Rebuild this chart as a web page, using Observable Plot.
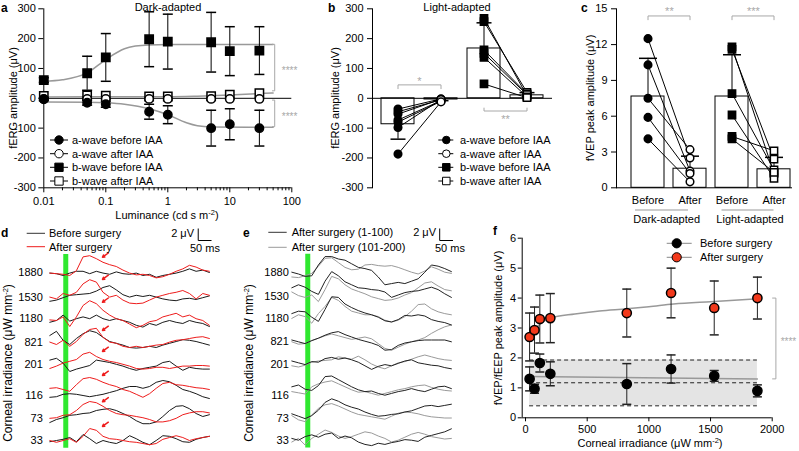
<!DOCTYPE html>
<html><head><meta charset="utf-8">
<script src="https://cdn.jsdelivr.net/npm/d3@7"></script>
<script src="https://cdn.jsdelivr.net/npm/@observablehq/plot@0.6"></script>
<style>
html,body{margin:0;padding:0;background:#fff;}
#fig{position:relative;width:799px;height:451px;overflow:hidden;font-family:"Liberation Sans",Arial,sans-serif;}
</style></head><body><div id="fig"></div>
<script>
// ---------------- DATA ----------------
// panel a (dark-adapted fERG)
const luminance = [0.01, 0.05, 0.1, 0.5, 1, 5, 10, 30];
const luminanceTicks = [0.01, 0.1, 1, 10, 100];
const ampTicks = [-300, -200, -100, 0, 100, 200, 300];
const aBeforeMean = [-3, -15, -20, -45, -55, -100, -87, -100];
const aBeforeSD = [5, 8, 10, 25, 30, 60, 52, 60];
const aAfterMean = [-2, -2, -2, -2, -2, -2, -2, -2];
const bBeforeMean = [61, 84, 137, 198, 190, 188, 158, 160];
const bBeforeSD = [8, 57, 80, 92, 92, 100, 82, 80];
const bAfterMean = [8, 10, 9, 6, 6, 7, 12, 17];
const bBeforeFitX = [0.01, 0.02, 0.05, 0.1, 0.2, 0.3, 0.5, 1, 5, 50];
const bBeforeFitY = [57, 62, 85, 130, 166, 175, 179, 180, 180, 180];
const aBeforeFitX = [0.01, 0.05, 0.1, 0.2, 0.5, 1, 2, 3, 5, 50];
const aBeforeFitY = [-12, -13, -15, -20, -35, -55, -82, -92, -96, -97];
const bAfterFitX = [0.01, 0.1, 1, 3, 10, 30, 50];
const bAfterFitY = [4, 5, 5, 7, 11, 16, 18];
const aSig = [{y1: 181, y2: 25, label: "****"}, {y1: -6, y2: -95, label: "****"}];

// panel b (light-adapted fERG)
const bCats = ["a-wave before IAA", "a-wave after IAA", "b-wave before IAA", "b-wave after IAA"];
const lightMean = [-87, -4, 167, 10];
const lightSD = [50, 4, 86, 9];
const aWaveBefore = [-36, -45, -53, -73, -80, -98, -187];
const aWaveAfter = [-2, -5, -3, -8, -10, -4, -12];
const bWaveBefore = [268, 257, 162, 151, 137, 48];
const bWaveAfter = [8, 20, 15, 12, 5, 2];

// panel c (fVEP)
const cCats = ["DB", "DA", "LB", "LA"];
const cTickLabels = ["Before", "After", "Before", "After"];
const cGroups = ["Dark-adapted", "Light-adapted"];
const fvepTicks = [0, 3, 6, 9, 12, 15];
const fvepMean = [7.65, 1.6, 7.65, 1.55];
const fvepSD = [3.2, 1.05, 3.5, 1.0];
const darkBefore = [12.5, 10.3, 7.5, 5.9, 4.1];
const darkAfter = [2.5, 1.4, 3.2, 1.2, 0.5];
const lightBefore = [11.8, 11.6, 7.9, 6.1, 4.3, 4.1];
const lightAfter = [1.2, 2.4, 1.5, 0.8, 3.1, 1.3];

// panels d, e (traces)
const traceTimesMs = [-60,-35,-10,15,40,65,90,115,140,165,190,215,240,265,290,315,340,365,390,415,440,465,490,515,540];
const irradianceRows = ["1880","1530","1180","821","201","116","73","33"];
const dBeforeUV = [
 [-0.1,-0.2,-0.5,-0.1,0.2,0.2,-0.2,0.2,-0.1,-0.3,0.1,-0.2,-0.3,-0.1,-0.5,-0.3,-0.8,-0.5,-0.3,-0.1,0.2,0.6,0.2,0.4,0.0],
 [-0.7,-0.5,-0.1,0.3,0.4,0.5,0.6,1.0,1.6,1.9,1.2,0.4,0.0,0.3,0.1,0.3,0.0,-0.3,-0.5,-0.6,-0.3,-0.2,-0.4,-0.1,0.2],
 [-0.6,-0.3,0.6,-0.4,0.0,0.3,0.0,0.6,0.0,-0.3,0.0,-0.3,-0.6,-1.1,-1.4,-0.8,-1.1,-0.6,-0.3,-0.6,-0.8,-0.3,-0.6,-0.8,-1.3],
 [1.1,1.8,0.3,-0.4,0.6,1.4,1.9,1.6,0.8,0.1,-0.2,-0.5,-0.9,-1.0,-0.9,-0.7,-0.9,-0.5,-0.2,0.1,0.4,0.3,0.1,-0.2,-0.5],
 [0.7,1.0,0.2,-1.2,-0.8,-0.5,-0.2,0.7,0.5,0.3,0.0,-0.3,-0.7,-1.0,-0.7,-0.5,-0.3,0.3,0.5,-0.3,-1.0,-0.5,-0.7,-0.8,-0.8],
 [-0.3,-0.2,0.2,0.3,0.2,0.0,-0.2,0.0,0.2,0.5,0.8,1.2,1.5,1.5,1.2,1.5,2.2,2.5,2.3,1.7,1.0,0.7,0.3,-0.2,-0.5],
 [-0.7,-0.2,0.1,0.5,0.6,0.8,0.9,1.3,1.5,1.6,1.3,0.8,0.3,-0.4,-0.9,-0.9,-0.6,0.3,1.3,2.0,2.1,1.6,0.8,0.3,0.6],
 [-0.2,0.0,0.2,0.5,-0.2,1.0,0.3,-0.5,0.0,-0.3,-0.5,0.0,0.8,0.3,-0.3,-0.7,0.0,0.8,0.7,0.3,-0.2,-0.3,0.2,0.5,0.7]
];
const dAfterUV = [
 [-0.1,-0.2,-0.3,-0.5,0.3,2.6,2.8,2.3,1.7,1.3,1.0,0.4,-0.1,-0.4,-0.3,-0.5,-0.9,-0.7,-0.3,0.2,0.6,1.2,0.9,0.4,0.2],
 [0.0,-0.3,0.6,0.3,0.8,2.2,2.9,2.5,0.8,0.0,0.3,-0.5,-1.0,-1.1,-1.0,-0.5,0.0,0.3,0.6,0.8,1.1,0.6,-0.3,0.6,0.3],
 [-0.2,-0.3,0.3,-1.3,0.3,2.2,3.0,2.5,1.4,0.6,0.0,-0.3,-0.9,-1.5,-1.1,-0.5,-0.3,0.3,0.6,0.9,0.3,0.6,0.0,-0.3,-1.1],
 [0.0,-0.4,0.3,-0.7,0.1,1.3,2.1,2.3,0.8,0.0,-0.2,-0.7,-0.9,-0.7,-0.9,-0.7,-0.5,-0.4,0.0,0.3,0.4,0.6,0.8,0.9,0.6],
 [-0.7,-0.3,0.2,0.5,0.8,1.7,2.0,1.3,0.8,0.5,0.3,0.0,-0.3,-0.7,-0.8,-0.7,-0.5,-0.5,-0.7,-0.5,-0.3,-0.3,-0.2,-0.2,-0.3],
 [1.2,1.3,1.0,0.7,1.8,2.8,3.0,2.7,2.2,1.8,1.5,1.0,0.7,0.2,-0.3,0.3,1.2,2.0,2.2,1.8,1.7,1.5,1.3,1.2,1.0],
 [0.0,0.1,0.5,0.6,1.3,2.3,2.8,2.6,2.0,1.3,0.8,0.6,0.5,0.3,0.1,-0.2,-0.6,-0.6,-0.4,0.0,0.6,0.9,1.1,1.1,0.9],
 [0.0,-0.3,0.0,0.3,-0.3,0.7,2.0,1.7,0.7,0.3,0.2,0.0,-0.2,-0.3,-0.5,-0.7,-0.5,0.2,0.5,0.8,0.5,0.0,0.3,0.5,0.7]
];
const arrowPeakUV = [2.7, 3.1, 2.9, 2.1, 2.3, 3.5, 2.9, 2.5];
const eFirstUV = [
 [0,-0.3,-0.7,-0.6,1.2,2.6,2.6,2.2,2.0,1.4,0.8,0.6,0.3,-0.8,-2.1,-1.9,-1.7,-1.9,-1.5,-1.1,0,1.2,1.0,0.6,0.1],
 [1.5,2.0,1.6,0.9,0.4,2.6,4.2,3.5,2.5,2.0,1.5,1.4,1.2,1.1,0.8,-0.1,0.3,0.7,0.9,1.0,1.3,1.6,1.2,0.5,-0.1],
 [0.8,1.2,1.1,0.2,-0.5,1.5,3.6,3.5,2.4,1.8,1.3,0.9,0.6,0.2,-0.4,-0.6,-0.2,0.5,0.4,0.6,0.4,-0.2,-0.5,-0.7,-1.1],
 [0.3,0.0,-0.3,0.2,0.6,1.1,1.5,1.7,1.2,0.8,0.4,0.1,-0.2,-0.6,-1.4,-1.3,-0.6,-0.2,0.0,0.2,0.3,0.3,0.3,0.3,0.0],
 [0.5,0.2,-0.1,0.4,0.3,0.9,1.1,0.8,1.0,0.7,0.3,-0.3,-0.9,-0.4,-0.1,-0.3,0.1,0.5,0.7,0.2,0.0,-0.2,-0.3,-0.6,-0.8],
 [1.4,1.7,1.0,0.8,1.6,3.1,3.2,2.6,2.0,1.4,0.9,0.6,0.7,0.3,0.0,0.3,0.6,0.8,1.1,0.8,0.6,1.0,1.4,1.5,1.1],
 [0.7,0.3,-0.1,0.4,1.3,2.6,3.2,2.8,2.2,1.8,1.5,1.0,0.6,0.3,0.4,0.6,0.7,1.0,1.2,1.6,2.0,2.1,1.9,2.1,2.3],
 [0.3,0.0,0.6,0.9,0.5,1.0,1.2,0.3,0.7,0.4,-0.3,-0.7,-0.9,-0.5,-0.7,-0.4,-0.2,0.1,0.0,-0.2,0.5,0.8,1.1,1.4,1.9]
];
const eSecondUV = [
 [-0.8,-0.9,-0.6,-0.2,1.0,2.3,2.4,1.6,0.8,0.4,0.5,1.2,1.3,1.1,1.0,1.1,0.8,0.4,0.0,-0.3,0.2,0.9,0.5,0.0,-0.2],
 [0.8,0.2,-0.1,0.3,-0.8,1.2,3.4,3.0,2.0,1.3,0.9,0.5,0.0,-0.3,-0.6,-0.5,-0.2,0.3,0.7,1.5,2.3,2.5,1.8,1.2,1.0],
 [0.0,0.6,0.3,-0.8,0.8,2.0,3.5,3.0,2.0,1.2,0.9,0.6,0.6,0.3,-0.3,-0.6,-0.3,0.3,1.2,2.3,2.4,1.6,1.1,0.8,0.6],
 [0.0,-0.4,-0.3,0.2,0.6,1.0,1.3,1.0,0.7,0.4,0.6,0.8,0.5,-0.3,-1.1,-1.4,-0.9,-0.4,0.0,0.3,0.7,1.4,2.0,2.5,2.8],
 [-0.3,-0.5,-0.2,0.3,0.5,0.6,0.7,1.2,1.0,0.8,1.3,0.7,0.0,-0.5,-0.8,-0.3,0.2,0.4,0.8,1.2,1.5,1.2,0.9,0.7,0.6],
 [0.6,0.4,0.2,1.4,1.9,2.2,2.4,1.9,1.4,0.9,0.5,0.6,0.3,0.0,0.3,0.6,0.9,1.1,1.4,1.6,1.7,1.3,1.0,0.8,0.7],
 [0.4,-0.3,-0.6,0.5,1.6,2.2,2.4,2.0,1.5,1.0,0.6,0.4,0.2,0.0,-0.2,0.3,0.8,1.0,0.9,0.7,0.4,0.2,0.1,0.0,0.0],
 [-0.3,0.3,-0.8,0.3,1.0,1.7,1.3,0.7,0.3,0.6,1.0,1.4,1.2,0.7,0.3,-0.3,0.0,0.5,1.0,1.3,1.0,0.6,0.4,0.2,0.3]
];
const stimulusOnsetMs = [0];
const scaleBar = {uV: 2, ms: 50};

// panel f
const irradiance = [33, 73, 116, 201, 821, 1180, 1530, 1880];
const irrTicks = [0, 500, 1000, 1500, 2000];
const fTicks = [0, 1, 2, 3, 4, 5, 6];
const beforeMean = [1.3, 0.97, 1.83, 1.47, 1.13, 1.63, 1.4, 0.9];
const beforeSD = [0.4, 0.15, 0.3, 0.4, 0.68, 0.47, 0.18, 0.2];
const afterMean = [2.7, 2.93, 3.3, 3.33, 3.5, 4.17, 3.67, 4.0];
const afterSD = [0.8, 0.77, 0.8, 0.82, 0.8, 0.83, 0.9, 0.7];
const afterFitX = [33, 73, 116, 201, 400, 600, 821, 1000, 1200, 1500, 1880];
const afterFitY = [2.75, 2.95, 3.12, 3.33, 3.47, 3.57, 3.64, 3.71, 3.8, 3.88, 3.97];
const beforeFitX = [33, 1880];
const beforeFitY = [1.38, 1.3];
const noiseX = [33, 1880];
const noiseY = [0.4, 1.17, 1.93];

// ---------------- LAYOUT / HELPERS ----------------
const FONT = '"Liberation Sans", Arial, Helvetica, sans-serif';
const fig = document.getElementById("fig");
const STYLE = {fontFamily: FONT, fontSize: "11px", color: "black", background: "transparent", overflow: "visible"};
function mount(svg, left, top) {
  svg.style.position = "absolute"; svg.style.left = left + "px"; svg.style.top = top + "px";
  fig.appendChild(svg);
}
const cap = {draw(ctx, size) { const w = Math.sqrt(size / Math.PI); ctx.moveTo(-w, 0); ctx.lineTo(w, 0); }};
const str = d => String(d);
const GREY = "#a8a8a8";

// ---------------- PANEL a ----------------
const aRows = luminance.map((x, i) => ({x, aB: aBeforeMean[i], aBsd: aBeforeSD[i], aA: aAfterMean[i], bB: bBeforeMean[i], bBsd: bBeforeSD[i], bA: bAfterMean[i]}));
const minorLum = [];
for (const dec of [0.01, 0.1, 1, 10]) for (let k = 2; k <= 9; k++) minorLum.push(+(dec * k).toPrecision(3));
mount(Plot.plot({
  width: 300, height: 225, marginLeft: 43.3, marginRight: 8.7, marginTop: 8.3, marginBottom: 37.7,
  style: STYLE,
  x: {type: "log", domain: [0.01, 100]},
  y: {domain: [-300, 300]},
  marks: [
    Plot.ruleY([-300], {x1: 0.01, x2: 100, stroke: "black"}),
    Plot.ruleX([0.01], {y1: -300, y2: 300, stroke: "black"}),
    Plot.axisX({ticks: luminanceTicks, tickFormat: str, tickSize: 5, tickPadding: 4, label: null}),
    Plot.axisX({ticks: minorLum, tickSize: 3, tickFormat: () => "", label: null}),
    Plot.axisY({ticks: ampTicks, tickFormat: str, tickSize: 5, tickPadding: 3, label: null}),
    Plot.ruleY([0], {x1: 0.01, x2: 100, stroke: "black"}),
    Plot.line(d3.zip(bAfterFitX, bAfterFitY), {stroke: "#999", curve: "monotone-x"}),
    Plot.line(d3.zip(bBeforeFitX, bBeforeFitY), {stroke: "#999", curve: "monotone-x"}),
    Plot.line(d3.zip(aBeforeFitX, aBeforeFitY), {stroke: "#999", curve: "monotone-x"}),
    Plot.ruleX(aRows, {x: "x", y1: d => d.bB - d.bBsd, y2: d => d.bB + d.bBsd, stroke: "black"}),
    Plot.dot(aRows, {x: "x", y: d => d.bB + d.bBsd, symbol: cap, r: 5, stroke: "black", fill: "none"}),
    Plot.dot(aRows, {x: "x", y: d => d.bB - d.bBsd, symbol: cap, r: 5, stroke: "black", fill: "none"}),
    Plot.ruleX(aRows, {x: "x", y1: d => d.aB - d.aBsd, y2: d => d.aB + d.aBsd, stroke: "black"}),
    Plot.dot(aRows, {x: "x", y: d => d.aB + d.aBsd, symbol: cap, r: 5, stroke: "black", fill: "none"}),
    Plot.dot(aRows, {x: "x", y: d => d.aB - d.aBsd, symbol: cap, r: 5, stroke: "black", fill: "none"}),
    Plot.dot(aRows, {x: "x", y: "bA", symbol: "square", r: 4.7, fill: "white", stroke: "black"}),
    Plot.dot(aRows, {x: "x", y: "aA", symbol: "circle", r: 4.2, fill: "white", stroke: "black"}),
    Plot.dot(aRows, {x: "x", y: "bB", symbol: "square", r: 4.7, fill: "black", stroke: "black"}),
    Plot.dot(aRows, {x: "x", y: "aB", symbol: "circle", r: 4.2, fill: "black", stroke: "black"}),
    Plot.link(aSig, {x1: 48, x2: 53, y1: "y1", y2: "y1", stroke: GREY}),
    Plot.link(aSig, {x1: 53, x2: 53, y1: "y1", y2: "y2", stroke: GREY}),
    Plot.link(aSig, {x1: 48, x2: 53, y1: "y2", y2: "y2", stroke: GREY}),
    Plot.text(aSig, {x: 92, y: d => (d.y1 + d.y2) / 2 - 10, text: "label", fill: GREY, fontSize: 10})
  ]
}), 0, 0);

// ---------------- PANEL b ----------------
const bSummary = bCats.map((c, i) => ({c, mean: lightMean[i], end: lightMean[i] + Math.sign(lightMean[i]) * lightSD[i]}));
const aPairs = aWaveBefore.map((v, i) => ({b: v, a: aWaveAfter[i]}));
const bPairs = bWaveBefore.map((v, i) => ({b: v, a: bWaveAfter[i]}));
const bSigLines = [
  {x1: bCats[0], y1: 31, x2: bCats[0], y2: 45}, {x1: bCats[0], y1: 45, x2: bCats[1], y2: 45}, {x1: bCats[1], y1: 45, x2: bCats[1], y2: 31},
  {x1: bCats[2], y1: -31.5, x2: bCats[2], y2: -42.6}, {x1: bCats[2], y1: -42.6, x2: bCats[3], y2: -42.6}, {x1: bCats[3], y1: -42.6, x2: bCats[3], y2: -31.5}
];
mount(Plot.plot({
  width: 260, height: 225, marginLeft: 72, marginRight: 8, marginTop: 8.3, marginBottom: 37.7,
  style: STYLE,
  x: {type: "band", domain: bCats, paddingInner: 0.2326, paddingOuter: 0.209, axis: null},
  y: {domain: [-300, 300]},
  marks: [
    Plot.frame({anchor: "left"}),
    Plot.axisY({ticks: ampTicks, tickFormat: str, tickSize: 5, tickPadding: 4, label: null}),
    Plot.barY(bSummary, {x: "c", y: "mean", fill: "white", stroke: "black"}),
    Plot.ruleY([0], {stroke: "black"}),
    Plot.ruleX(bSummary, {x: "c", y1: "mean", y2: "end", stroke: "black"}),
    Plot.dot(bSummary, {x: "c", y: "end", symbol: cap, r: 7.5, stroke: "black", fill: "none"}),
    Plot.link(aPairs, {x1: () => bCats[0], x2: () => bCats[1], y1: "b", y2: "a", stroke: "black"}),
    Plot.link(bPairs, {x1: () => bCats[2], x2: () => bCats[3], y1: "b", y2: "a", stroke: "black"}),
    Plot.dot(aWaveAfter, {x: () => bCats[1], y: d => d, r: 3.8, fill: "white", stroke: "black"}),
    Plot.dot(aWaveBefore, {x: () => bCats[0], y: d => d, r: 3.8, fill: "black", stroke: "black"}),
    Plot.dot(bWaveAfter, {x: () => bCats[3], y: d => d, symbol: "square", r: 4.1, fill: "white", stroke: "black"}),
    Plot.dot(bWaveBefore, {x: () => bCats[2], y: d => d, symbol: "square", r: 4.1, fill: "black", stroke: "black"}),
    Plot.link(bSigLines, {x1: "x1", y1: "y1", x2: "x2", y2: "y2", stroke: GREY}),
    Plot.text(["*"], {x: () => bCats[0], dx: 21.5, y: 58, text: d => d, fill: GREY, fontSize: 11}),
    Plot.text(["**"], {x: () => bCats[2], dx: 21.5, y: -70, text: d => d, fill: GREY, fontSize: 11})
  ]
}), 300, 0);

// ---------------- PANEL c ----------------
const cSummary = cCats.map((c, i) => ({c, mean: fvepMean[i], end: fvepMean[i] + fvepSD[i]}));
const dPairs = darkBefore.map((v, i) => ({b: v, a: darkAfter[i]}));
const lPairs = lightBefore.map((v, i) => ({b: v, a: lightAfter[i]}));
const cSig = [{from: "DB", to: "DA", label: "**"}, {from: "LB", to: "LA", label: "***"}];
mount(Plot.plot({
  width: 239, height: 225, marginLeft: 56, marginRight: 7, marginTop: 8.3, marginBottom: 37.7,
  style: STYLE,
  x: {type: "band", domain: cCats, paddingInner: 0.222, paddingOuter: 0.167, align: 0.86},
  y: {domain: [0, 15]},
  marks: [
    Plot.frame({anchor: "left"}),
    Plot.axisY({ticks: fvepTicks, tickSize: 5, tickPadding: 4, label: null}),
    Plot.axisX({tickSize: 0, tickPadding: 8, tickFormat: d => cTickLabels[cCats.indexOf(d)], label: null}),
    Plot.barY(cSummary, {x: "c", y: "mean", fill: "white", stroke: "black"}),
    Plot.ruleY([0], {stroke: "black"}),
    Plot.ruleX(cSummary, {x: "c", y1: "mean", y2: "end", stroke: "black"}),
    Plot.dot(cSummary, {x: "c", y: "end", symbol: cap, r: 9, stroke: "black", fill: "none"}),
    Plot.link(dPairs, {x1: () => "DB", x2: () => "DA", y1: "b", y2: "a", stroke: "black"}),
    Plot.link(lPairs, {x1: () => "LB", x2: () => "LA", y1: "b", y2: "a", stroke: "black"}),
    Plot.dot(darkBefore, {x: () => "DB", y: d => d, r: 3.8, fill: "black", stroke: "black"}),
    Plot.dot(darkAfter, {x: () => "DA", y: d => d, r: 3.8, fill: "white", stroke: "black"}),
    Plot.dot(lightBefore, {x: () => "LB", y: d => d, symbol: "square", r: 4.1, fill: "black", stroke: "black"}),
    Plot.dot(lightAfter, {x: () => "LA", y: d => d, symbol: "square", r: 4.1, fill: "white", stroke: "black"}),
    Plot.link(cSig, {x1: "from", x2: "to", y1: 14.4, y2: 14.4, stroke: GREY}),
    Plot.link(cSig, {x1: "from", x2: "from", y1: 14.4, y2: 14.05, stroke: GREY}),
    Plot.link(cSig, {x1: "to", x2: "to", y1: 14.4, y2: 14.05, stroke: GREY}),
    Plot.text(cSig, {x: "from", dx: 21.4, y: 14.75, text: "label", fill: GREY, fontSize: 11})
  ]
}), 560, 0);

// ---------------- PANELS d, e (traces) ----------------
const rowBaseUV = [0, -4.1, -7.7, -11.6, -15.3, -20.5, -24.3, -28];   // vertical stacking of rows (layout)
function traceRows(arr) {
  return arr.flatMap((vals, r) => vals.map((v, k) => ({t: traceTimesMs[k], v: v + rowBaseUV[r], row: r})));
}
const rowLabel = d => irradianceRows[rowBaseUV.indexOf(d)];
const arrows = arrowPeakUV.map((a, r) => ({a: a + rowBaseUV[r]}));
function scaleBarMarks(t0, v0) {
  return [
    Plot.link([0], {x1: t0, x2: t0, y1: v0, y2: v0 + scaleBar.uV, stroke: "black"}),
    Plot.link([0], {x1: t0, x2: t0 + scaleBar.ms, y1: v0, y2: v0, stroke: "black"})
  ];
}
mount(Plot.plot({
  width: 255, height: 226, marginLeft: 49.3, marginRight: 46.1, marginTop: 3, marginBottom: 3,
  style: STYLE,
  x: {domain: [-60, 540], axis: null},
  y: {domain: [-29.33, 7.33]},
  marks: [
    Plot.axisY({ticks: rowBaseUV, tickFormat: rowLabel, tickSize: 0, tickPadding: 7, label: null}),
    Plot.ruleX(stimulusOnsetMs, {x: d => d, y1: 3.0, y2: -29.3, stroke: "#2fe82f", strokeWidth: 5}),
    Plot.line(traceRows(dBeforeUV), {x: "t", y: "v", z: "row", stroke: "#1a1a1a", strokeWidth: 1}),
    Plot.line(traceRows(dAfterUV), {x: "t", y: "v", z: "row", stroke: "#ee1c1c", strokeWidth: 1}),
    Plot.arrow(arrows, {x1: 160, y1: d => d.a + 0.55, x2: 138, y2: d => d.a - 0.15, stroke: "#ee1c1c", strokeWidth: 1.5, headLength: 4}),
    ...scaleBarMarks(498, 5.33)
  ]
}), 0, 225);

mount(Plot.plot({
  width: 200, height: 226, marginLeft: 36.3, marginRight: 4.1, marginTop: 3, marginBottom: 3,
  style: STYLE,
  x: {domain: [-60, 540], axis: null},
  y: {domain: [-29.38, 7.28]},
  marks: [
    Plot.axisY({ticks: rowBaseUV, tickFormat: rowLabel, tickSize: 0, tickPadding: 3, label: null}),
    Plot.ruleX(stimulusOnsetMs, {x: d => d, y1: 3.0, y2: -29.3, stroke: "#2fe82f", strokeWidth: 5}),
    Plot.line(traceRows(eSecondUV), {x: "t", y: "v", z: "row", stroke: "#9a9a9a", strokeWidth: 1}),
    Plot.line(traceRows(eFirstUV), {x: "t", y: "v", z: "row", stroke: "#222", strokeWidth: 1}),
    ...scaleBarMarks(496, 5.28)
  ]
}), 255, 225);

// ---------------- PANEL f ----------------
const fRows = irradiance.map((x, i) => ({x, b: beforeMean[i], bsd: beforeSD[i], a: afterMean[i], asd: afterSD[i]}));
const fSig = [{y1: afterMean[7], y2: beforeFitY[1], label: "****"}];
mount(Plot.plot({
  width: 329, height: 226, marginLeft: 51.7, marginRight: 27.3, marginTop: 12.7, marginBottom: 33.7,
  style: STYLE,
  x: {domain: [-27, 2000]},
  y: {domain: [0, 6]},
  marks: [
    Plot.rect([0], {x1: noiseX[0], x2: noiseX[1], y1: noiseY[0], y2: noiseY[2], fill: "#e4e4e4"}),
    Plot.ruleY(noiseY, {x1: noiseX[0], x2: noiseX[1], stroke: "#222", strokeDasharray: "4,3"}),
    Plot.ruleX([-27], {y1: 0, y2: 6, stroke: "black"}),
    Plot.ruleY([0], {x1: -27, x2: 2000, stroke: "black"}),
    Plot.axisX({ticks: irrTicks, tickFormat: str, tickSize: 4, tickPadding: 3, label: null}),
    Plot.axisY({ticks: fTicks, tickFormat: str, tickSize: 4, tickPadding: 2, label: null}),
    Plot.line(d3.zip(beforeFitX, beforeFitY), {stroke: "#999"}),
    Plot.line(d3.zip(afterFitX, afterFitY), {stroke: "#999", curve: "monotone-x"}),
    Plot.ruleX(fRows, {x: "x", y1: d => d.b - d.bsd, y2: d => d.b + d.bsd, stroke: "#222"}),
    Plot.dot(fRows, {x: "x", y: d => d.b - d.bsd, symbol: cap, r: 4.5, stroke: "#222", fill: "none"}),
    Plot.dot(fRows, {x: "x", y: d => d.b + d.bsd, symbol: cap, r: 4.5, stroke: "#222", fill: "none"}),
    Plot.ruleX(fRows, {x: "x", y1: d => d.a - d.asd, y2: d => d.a + d.asd, stroke: "#222"}),
    Plot.dot(fRows, {x: "x", y: d => d.a - d.asd, symbol: cap, r: 4.5, stroke: "#222", fill: "none"}),
    Plot.dot(fRows, {x: "x", y: d => d.a + d.asd, symbol: cap, r: 4.5, stroke: "#222", fill: "none"}),
    Plot.dot(fRows, {x: "x", y: "b", r: 4.6, fill: "black", stroke: "black"}),
    Plot.dot(fRows, {x: "x", y: "a", r: 4.6, fill: "#f2391b", stroke: "black"}),
    Plot.link(fSig, {x1: 2000, x2: 2030, y1: "y1", y2: "y1", stroke: GREY}),
    Plot.link(fSig, {x1: 2030, x2: 2030, y1: "y1", y2: "y2", stroke: GREY}),
    Plot.link(fSig, {x1: 2000, x2: 2030, y1: "y2", y2: "y2", stroke: GREY}),
    Plot.text(fSig, {x: 2132, y: d => (d.y1 + d.y2) / 2 - 0.1, text: "label", fill: GREY, fontSize: 10})
  ]
}), 470, 225);

// ---------------- OVERLAY (titles, labels, legends) ----------------
const ov = d3.create("svg").attr("width", 799).attr("height", 451)
  .attr("font-family", FONT).attr("font-size", 11)
  .style("position", "absolute").style("left", "0px").style("top", "0px").style("pointer-events", "none");
fig.appendChild(ov.node());
function rich(sel, parts) {
  for (const p of parts) {
    if (typeof p === "string") sel.append("tspan").text(p);
    else sel.append("tspan").attr("font-size", 7.5).attr("baseline-shift", "super").text(p.sup);
  }
  return sel;
}
function label(x, y, parts, {anchor = "start", size = 11, weight = "normal", rotate = false, fill = "black"} = {}) {
  const t = ov.append("text").attr("x", x).attr("y", y).attr("text-anchor", anchor)
    .attr("font-size", size).attr("font-weight", weight).attr("fill", fill);
  if (rotate) t.attr("transform", `rotate(-90 ${x} ${y})`);
  return rich(t, Array.isArray(parts) ? parts : [parts]);
}
function legendItem({x1, x2, cx, y, sym, r, fill, text, tx, line = "black", stroke = "black"}) {
  ov.append("line").attr("x1", x1).attr("x2", x2).attr("y1", y).attr("y2", y).attr("stroke", line);
  if (sym) ov.append("path").attr("d", d3.symbol(sym, Math.PI * r * r)()).attr("transform", `translate(${cx},${y})`)
    .attr("fill", fill).attr("stroke", stroke);
  ov.append("text").attr("x", tx).attr("y", y).attr("dy", "0.35em").text(text);
}
// panel letters
for (const [l, x, y] of [["a", 1, 12], ["b", 328, 12], ["c", 581, 12], ["d", 1, 237], ["e", 243, 237], ["f", 493, 235]])
  label(x, y, l, {weight: "bold", size: 12});
// titles
label(168, 10.5, "Dark-adapted", {anchor: "middle"});
label(457, 10.5, "Light-adapted", {anchor: "middle"});
// axis titles
label(17, 98, "fERG amplitude (μV)", {anchor: "middle", rotate: true});
label(339, 98, "fERG amplitude (μV)", {anchor: "middle", rotate: true});
label(594, 98, "fVEP peak amplitude (μV)", {anchor: "middle", rotate: true});
label(167, 219, ["Luminance (cd s m", {sup: "-2"}, ")"], {anchor: "middle"});
label(12, 363, ["Corneal irradiance (μW mm", {sup: "-2"}, ")"], {anchor: "middle", rotate: true, size: 12});
label(253, 363, ["Corneal irradiance (μW mm", {sup: "-2"}, ")"], {anchor: "middle", rotate: true, size: 12});
label(502, 328, "fVEP/fEEP peak amplitude (μV)", {anchor: "middle", rotate: true});
label(650, 447, ["Corneal irradiance (μW mm", {sup: "-2"}, ")"], {anchor: "middle"});
// panel c group labels
ov.append("line").attr("x1", 635).attr("x2", 688).attr("y1", 210).attr("y2", 210).attr("stroke", "#999");
ov.append("line").attr("x1", 721.5).attr("x2", 773.5).attr("y1", 210).attr("y2", 210).attr("stroke", "#999");
label(666.7, 223, cGroups[0], {anchor: "middle"});
label(750, 223, cGroups[1], {anchor: "middle"});
// legends a & b
const abLegend = [
  {sym: d3.symbolCircle, r: 4.2, fill: "black", text: "a-wave before IAA"},
  {sym: d3.symbolCircle, r: 4.2, fill: "white", text: "a-wave after IAA"},
  {sym: d3.symbolSquare, r: 4.7, fill: "black", text: "b-wave before IAA"},
  {sym: d3.symbolSquare, r: 4.7, fill: "white", text: "b-wave after IAA"}
];
const abY = [140, 153.7, 167.3, 181];
abLegend.forEach((d, i) => {
  legendItem({...d, x1: 50, x2: 68, cx: 59, y: abY[i], tx: 72});
  legendItem({...d, r: d.r * 0.9, x1: 438.3, x2: 453.3, cx: 446.3, y: abY[i], tx: 460});
});
// legends d, e
legendItem({x1: 26.7, x2: 45, y: 233.3, text: "Before surgery", tx: 49, line: "#333"});
legendItem({x1: 26.7, x2: 45, y: 246.7, text: "After surgery", tx: 49, line: "#ee1c1c"});
legendItem({x1: 268.3, x2: 286.7, y: 232.3, text: "After surgery (1-100)", tx: 291.7, line: "#333"});
legendItem({x1: 268.3, x2: 286.7, y: 247.3, text: "After surgery (101-200)", tx: 291.7, line: "#9a9a9a"});
// scale bar labels
label(194, 237, "2 μV", {anchor: "end"});
label(190, 252, "50 ms");
label(436, 236, "2 μV", {anchor: "end"});
label(435, 252, "50 ms");
// legend f
legendItem({x1: 666.7, x2: 691.7, cx: 676.7, y: 243.3, sym: d3.symbolCircle, r: 4.6, fill: "black", text: "Before surgery", tx: 700, line: "#888"});
legendItem({x1: 666.7, x2: 691.7, cx: 676.7, y: 257.3, sym: d3.symbolCircle, r: 4.6, fill: "#f2391b", text: "After surgery", tx: 700, line: "#888"});
</script></body></html>
